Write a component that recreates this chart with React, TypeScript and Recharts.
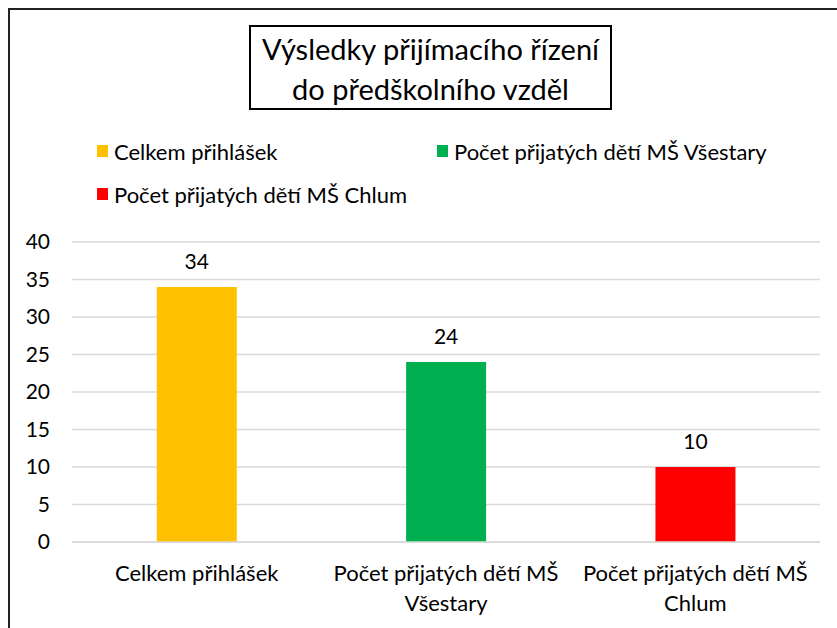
import React from 'react';
import { BarChart, Bar, XAxis, YAxis, CartesianGrid, Cell, LabelList } from 'recharts';

const categories = ['Celkem přihlášek', 'Počet přijatých dětí MŠ Všestary', 'Počet přijatých dětí MŠ Chlum'];
const values = [34, 24, 10];
const colors = ['#FFC000', '#00B050', '#FF0000'];
const yTicks = [0, 5, 10, 15, 20, 25, 30, 35, 40];
const titleLines = ['Výsledky přijímacího řízení', 'do předškolního vzděl'];

const data = categories.map((name, i) => ({ name, value: values[i] }));

const FONT = 'Lato, "Noto Sans", sans-serif';

// break long category names before the last word, like Excel does here
const splitLabel = (s: string) => {
  if (s.length <= 20) return [s];
  const k = s.lastIndexOf(' ');
  return [s.slice(0, k), s.slice(k + 1)];
};

const CategoryTick = (props: any) => {
  const { x, y, payload } = props;
  const lines = splitLabel(payload.value);
  return (
    <text x={x} y={y} textAnchor="middle" fill="#000" fontSize={22} fontFamily={FONT}>
      {lines.map((l, i) => (
        <tspan key={i} x={x} dy={i === 0 ? 31 : 30}>{l}</tspan>
      ))}
    </text>
  );
};

const legendPos = [
  { left: 97, top: 151 },
  { left: 437, top: 151 },
  { left: 97, top: 194 },
];

export default function App() {
  return (
    <div style={{ position: 'fixed', left: 0, top: 0, width: 837, height: 628, overflow: 'hidden', background: '#fff', fontFamily: FONT }}>
      <div style={{ position: 'absolute', left: 8, top: 8, width: 900, height: 700, border: '2px solid #222' }} />
      <div style={{ position: 'absolute', left: 0, top: 0 }}>
        <BarChart width={837} height={628} data={data} margin={{ top: 242, right: 17, left: 22, bottom: 16 }} barCategoryGap="34%">
          <CartesianGrid vertical={false} stroke="#d9d9d9" strokeWidth={1.5} />
          <XAxis dataKey="name" axisLine={{ stroke: '#d9d9d9', strokeWidth: 1.5 }} tickLine={false} tick={<CategoryTick />} height={70} interval={0} />
          <YAxis domain={[0, 40]} ticks={yTicks} axisLine={false} tickLine={false} tickSize={0} tickMargin={22} width={50}
            tick={{ fill: '#000', fontSize: 21, fontFamily: FONT }} />
          <Bar dataKey="value" isAnimationActive={false}>
            {data.map((d, i) => <Cell key={d.name} fill={colors[i]} />)}
            <LabelList dataKey="value" position="top" offset={18} fill="#000" fontSize={21} fontFamily={FONT} />
          </Bar>
        </BarChart>
      </div>
      <div style={{ position: 'absolute', left: 249, top: 25, width: 363, height: 85, boxSizing: 'border-box', border: '2px solid #000', background: '#fff', textAlign: 'center', fontSize: 29, lineHeight: '40px', paddingTop: 2, color: '#000', whiteSpace: 'nowrap' }}>
        {titleLines.map((t) => <div key={t}>{t}</div>)}
      </div>
      {categories.map((c, i) => (
        <div key={c} style={{ position: 'absolute', left: legendPos[i].left, top: legendPos[i].top - 13, height: 26, display: 'flex', alignItems: 'center', fontSize: 22, color: '#000', whiteSpace: 'nowrap' }}>
          <span style={{ display: 'inline-block', width: 11, height: 12, background: colors[i], marginRight: 6 }} />
          {c}
        </div>
      ))}
    </div>
  );
}
